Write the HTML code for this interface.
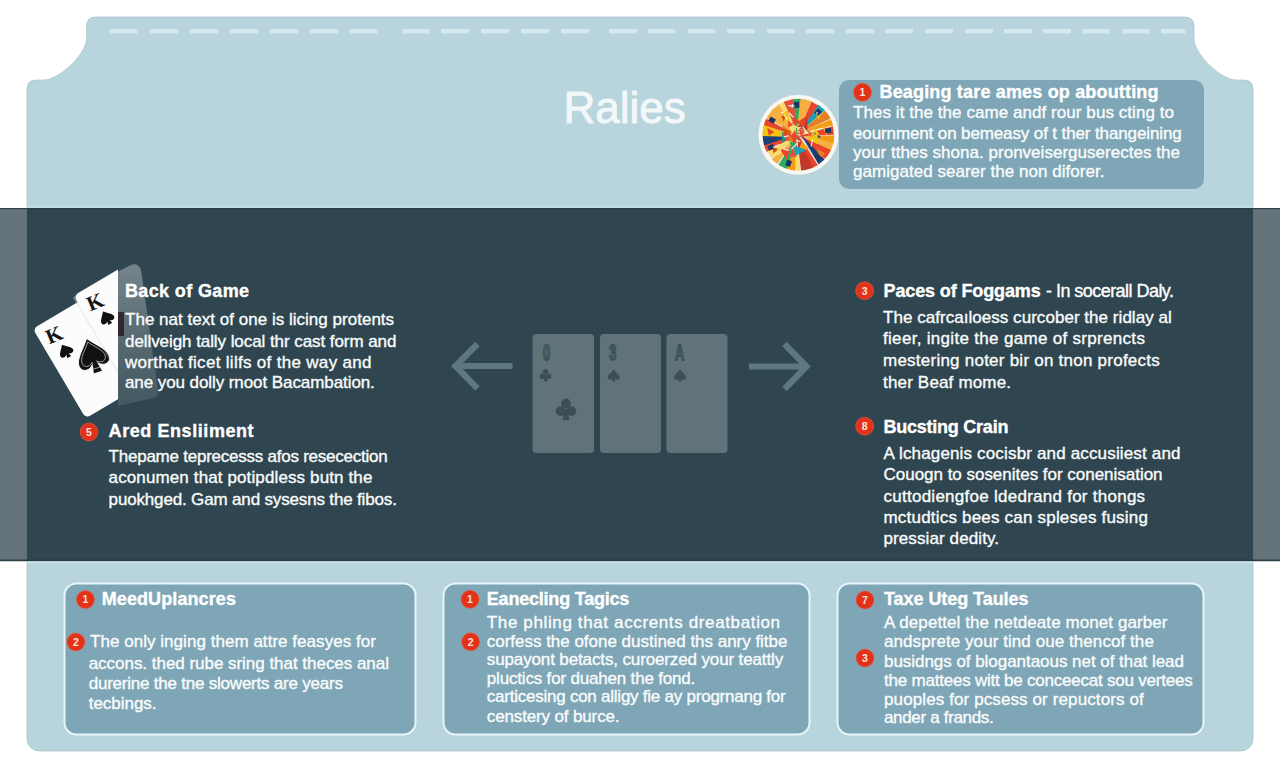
<!DOCTYPE html>
<html><head><meta charset="utf-8"><style>
html,body{margin:0;padding:0;background:#ffffff;width:1280px;height:768px;overflow:hidden}
.t{position:absolute;white-space:pre;font-family:"Liberation Sans",sans-serif;line-height:1;-webkit-text-stroke:0.35px currentColor}
.ttl{-webkit-text-stroke:0.9px currentColor}
svg{position:absolute;left:0;top:0}
</style></head><body>
<svg width="1280" height="768" viewBox="0 0 1280 768">
<path d="M 95.5,17 L 1185,17 Q 1194,17 1194,26 L 1194,38 C 1194,55 1222,80 1236,80 L 1244,80 Q 1253,80 1253,89 L 1253,739 A 12 12 0 0 1 1241,751 L 39,751 A 12 12 0 0 1 27,739 L 27,89 Q 27,80 36,80 L 44,80 C 58,80 86.5,55 86.5,38 L 86.5,26 Q 86.5,17 95.5,17 Z" fill="#b8d4dc" stroke="#a9c4cc" stroke-width="1" stroke-opacity="0.7"/>
<rect x="109.5" y="29" width="28" height="4.6" rx="1" fill="#d4e8ee"/><rect x="150" y="29" width="28" height="4.6" rx="1" fill="#d4e8ee"/><rect x="190" y="29" width="28" height="4.6" rx="1" fill="#d4e8ee"/><rect x="230" y="29" width="28" height="4.6" rx="1" fill="#d4e8ee"/><rect x="270" y="29" width="28" height="4.6" rx="1" fill="#d4e8ee"/><rect x="310" y="29" width="28" height="4.6" rx="1" fill="#d4e8ee"/><rect x="349.5" y="29" width="28" height="4.6" rx="1" fill="#d4e8ee"/><rect x="402" y="29" width="28" height="4.6" rx="1" fill="#d4e8ee"/><rect x="441" y="29" width="28" height="4.6" rx="1" fill="#d4e8ee"/><rect x="481" y="29" width="28" height="4.6" rx="1" fill="#d4e8ee"/><rect x="521" y="29" width="28" height="4.6" rx="1" fill="#d4e8ee"/><rect x="561" y="29" width="28" height="4.6" rx="1" fill="#d4e8ee"/><rect x="609" y="29" width="28" height="4.6" rx="1" fill="#d4e8ee"/><rect x="647.5" y="29" width="28" height="4.6" rx="1" fill="#d4e8ee"/><rect x="687.5" y="29" width="28" height="4.6" rx="1" fill="#d4e8ee"/><rect x="727" y="29" width="28" height="4.6" rx="1" fill="#d4e8ee"/><rect x="767" y="29" width="28" height="4.6" rx="1" fill="#d4e8ee"/><rect x="806" y="29" width="28" height="4.6" rx="1" fill="#d4e8ee"/><rect x="846" y="29" width="28" height="4.6" rx="1" fill="#d4e8ee"/><rect x="885" y="29" width="28" height="4.6" rx="1" fill="#d4e8ee"/><rect x="925" y="29" width="28" height="4.6" rx="1" fill="#d4e8ee"/><rect x="965" y="29" width="28" height="4.6" rx="1" fill="#d4e8ee"/><rect x="1004" y="29" width="28" height="4.6" rx="1" fill="#d4e8ee"/><rect x="1043" y="29" width="28" height="4.6" rx="1" fill="#d4e8ee"/><rect x="1082" y="29" width="28" height="4.6" rx="1" fill="#d4e8ee"/><rect x="1122" y="29" width="28" height="4.6" rx="1" fill="#d4e8ee"/><rect x="1161" y="29" width="24.5" height="4.6" rx="1" fill="#d4e8ee"/>
<rect x="0" y="208" width="1280" height="353" fill="#637379"/>
<rect x="27" y="208" width="1226" height="353" fill="#2f4650"/>
<rect x="27" y="206" width="1226" height="2" fill="#c2dce4"/>
<rect x="0" y="208" width="1280" height="1.2" fill="#25383f" opacity="0.8"/>
<rect x="0" y="559.5" width="1280" height="1.8" fill="#23363d" opacity="0.8"/>
<rect x="27" y="561.3" width="1226" height="2.2" fill="#c8e0e7"/>
<rect x="839" y="80" width="365" height="109" rx="10" fill="#7ea6b6"/>
<defs><clipPath id="wc"><circle cx="798.4" cy="134.8" r="36"/></clipPath></defs><circle cx="798.4" cy="134.8" r="40" fill="#f8f7f2"/><g clip-path="url(#wc)"><rect x="762.4" y="98.80000000000001" width="72" height="72" fill="#efe9dc"/><polygon points="801.1,136.2 838.5,135.4 836.9,145.8" fill="#f39c12"/><polygon points="796.9,132.1 837.2,144.5 832.9,155.0" fill="#f5b041"/><polygon points="798.7,135.2 831.5,150.3 825.4,159.3" fill="#e8452c"/><polygon points="800.6,134.1 824.7,159.5 818.7,164.6" fill="#1d3f7a"/><polygon points="796.2,131.8 819.4,167.6 812.8,170.9" fill="#e8452c"/><polygon points="796.4,132.8 815.2,172.3 801.7,175.8" fill="#c0392b"/><polygon points="796.6,137.4 801.0,174.0 792.9,173.7" fill="#f7dc6f"/><polygon points="795.5,134.3 795.2,172.1 783.2,169.0" fill="#f39c12"/><polygon points="799.0,131.8 786.8,169.8 778.2,165.6" fill="#27ae60"/><polygon points="797.2,136.0 776.5,164.9 771.1,160.1" fill="#f5b041"/><polygon points="801.3,131.9 772.0,158.3 766.6,150.1" fill="#f7dc6f"/><polygon points="797.9,134.1 764.6,153.3 761.0,143.8" fill="#e8452c"/><polygon points="801.1,133.0 763.9,145.5 762.3,135.7" fill="#1d3f7a"/><polygon points="798.5,137.2 760.5,136.0 762.0,124.1" fill="#f1c40f"/><polygon points="800.2,137.0 760.1,124.0 762.8,117.0" fill="#e8452c"/><polygon points="798.5,134.0 766.1,118.2 772.7,109.2" fill="#f5b041"/><polygon points="797.3,133.7 769.1,109.9 778.3,102.0" fill="#f5b041"/><polygon points="797.3,134.7 777.1,101.4 785.3,97.4" fill="#f7dc6f"/><polygon points="797.8,133.2 782.9,99.7 796.0,96.5" fill="#e74c3c"/><polygon points="796.3,137.7 793.0,96.0 802.8,95.9" fill="#27ae60"/><polygon points="796.2,136.2 801.0,94.5 813.3,97.3" fill="#f5b041"/><polygon points="798.0,132.7 811.5,101.7 819.8,106.3" fill="#e8452c"/><polygon points="799.1,132.8 821.3,100.9 828.5,107.2" fill="#17a2b8"/><polygon points="798.3,133.5 827.9,108.3 833.8,116.9" fill="#e67e22"/><polygon points="798.6,132.9 834.9,117.8 837.3,124.4" fill="#f39c12"/><polygon points="797.0,136.5 832.9,126.3 833.9,134.8" fill="#e8452c"/><polygon points="792.8,128.5 798.9,139.0 787.2,136.6" fill="#e74c3c" transform="rotate(128 792.8 134.7)"/><polygon points="786.2,110.0 790.6,117.5 782.2,115.8" fill="#f1c40f" transform="rotate(254 786.2 114.4)"/><polygon points="804.0,118.5 810.9,130.3 797.7,127.5" fill="#c0392b" transform="rotate(258 804.0 125.4)"/><polygon points="787.1,116.3 790.2,121.5 784.4,120.3" fill="#f1c40f" transform="rotate(197 787.1 119.4)"/><polygon points="793.3,140.5 797.5,147.6 789.6,145.9" fill="#27ae60" transform="rotate(180 793.3 144.7)"/><polygon points="802.2,116.8 807.8,126.2 797.2,124.0" fill="#e8452c" transform="rotate(266 802.2 122.3)"/><polygon points="774.9,146.3 778.6,152.6 771.6,151.1" fill="#d35400" transform="rotate(312 774.9 150.0)"/><polygon points="826.9,125.4 832.0,134.0 822.4,132.0" fill="#f5b041" transform="rotate(191 826.9 130.5)"/><polygon points="802.7,141.1 809.1,152.0 796.9,149.4" fill="#f39c12" transform="rotate(102 802.7 147.5)"/><polygon points="794.0,108.5 797.7,114.8 790.7,113.3" fill="#e74c3c" transform="rotate(281 794.0 112.2)"/><polygon points="770.2,127.7 774.4,134.8 766.4,133.1" fill="#e8452c" transform="rotate(199 770.2 131.9)"/><polygon points="783.6,114.5 786.7,119.8 780.8,118.5" fill="#d35400" transform="rotate(58 783.6 117.6)"/><polygon points="792.2,122.6 798.2,132.9 786.8,130.5" fill="#f7dc6f" transform="rotate(65 792.2 128.7)"/><polygon points="814.1,135.1 818.0,141.8 810.6,140.2" fill="#f5b041" transform="rotate(19 814.1 139.0)"/><polygon points="820.8,148.6 825.7,157.0 816.3,155.0" fill="#e67e22" transform="rotate(197 820.8 153.5)"/><polygon points="784.8,132.4 790.3,141.6 779.9,139.4" fill="#1f8a8a" transform="rotate(212 784.8 137.8)"/><polygon points="795.7,116.9 800.1,124.4 791.7,122.7" fill="#e8452c" transform="rotate(343 795.7 121.4)"/><polygon points="792.5,132.2 798.8,143.0 786.8,140.4" fill="#e8452c" transform="rotate(135 792.5 138.5)"/><polygon points="787.1,127.0 791.3,134.1 783.4,132.4" fill="#e74c3c" transform="rotate(185 787.1 131.1)"/><polygon points="794.9,143.9 798.4,149.9 791.7,148.5" fill="#e74c3c" transform="rotate(147 794.9 147.5)"/><polygon points="789.9,120.6 793.4,126.7 786.7,125.3" fill="#e74c3c" transform="rotate(215 789.9 124.2)"/><polygon points="789.3,132.6 792.8,138.6 786.1,137.2" fill="#e8452c" transform="rotate(33 789.3 136.1)"/><polygon points="801.6,128.9 805.0,134.7 798.5,133.3" fill="#e74c3c" transform="rotate(204 801.6 132.3)"/><polygon points="786.3,125.2 792.8,136.3 780.5,133.7" fill="#e67e22" transform="rotate(203 786.3 131.7)"/><polygon points="789.4,134.7 793.6,141.8 785.7,140.2" fill="#e67e22" transform="rotate(350 789.4 138.9)"/><polygon points="778.8,148.6 782.5,154.8 775.6,153.4" fill="#f7dc6f" transform="rotate(214 778.8 152.3)"/><polygon points="815.2,128.1 819.8,136.0 811.0,134.2" fill="#f1c40f" transform="rotate(115 815.2 132.8)"/><polygon points="787.0,130.5 791.9,138.8 782.6,136.9" fill="#e74c3c" transform="rotate(44 787.0 135.4)"/><polygon points="808.5,129.1 811.6,134.5 805.6,133.2" fill="#e67e22" transform="rotate(49 808.5 132.3)"/><polygon points="816.2,132.2 820.3,139.1 812.5,137.5" fill="#1d3f7a" transform="rotate(337 816.2 136.3)"/><polygon points="814.7,132.3 821.1,143.1 809.0,140.5" fill="#f1c40f" transform="rotate(260 814.7 138.6)"/><polygon points="793.1,149.0 798.0,157.3 788.7,155.4" fill="#e74c3c" transform="rotate(232 793.1 153.9)"/><polygon points="818.4,113.2 821.4,118.4 815.6,117.1" fill="#f1c40f" transform="rotate(45 818.4 116.2)"/><polygon points="785.9,128.0 790.1,135.1 782.2,133.4" fill="#d35400" transform="rotate(191 785.9 132.1)"/><polygon points="785.7,146.1 791.9,156.8 780.0,154.3" fill="#e8452c" transform="rotate(48 785.7 152.4)"/><polygon points="798.2,144.0 804.8,155.3 792.2,152.6" fill="#17a2b8" transform="rotate(320 798.2 150.6)"/><rect x="824.7" y="127.7" width="5" height="6" fill="#1e3466" transform="rotate(83 827.7 131.2)"/><rect x="814.4" y="153.9" width="5" height="6" fill="#1e3466" transform="rotate(140 817.4 157.4)"/><rect x="785.3" y="159.1" width="5" height="6" fill="#1e3466" transform="rotate(200 788.3 162.6)"/><rect x="768.3" y="143.1" width="5" height="6" fill="#1e3466" transform="rotate(246 771.3 146.6)"/><rect x="769.8" y="116.5" width="5" height="6" fill="#1e3466" transform="rotate(300 772.8 120.0)"/><rect x="794.1" y="101.8" width="5" height="6" fill="#1e3466" transform="rotate(358 797.1 105.3)"/><rect x="815.1" y="109.4" width="5" height="6" fill="#1e3466" transform="rotate(402 818.1 112.9)"/><path d="M817.1,111.9 l-0.3,2.6" stroke="#ffffff" stroke-width="1.3" opacity="0.8"/><path d="M792.5,104.2 l-0.5,3.6" stroke="#ffffff" stroke-width="1.3" opacity="0.8"/><path d="M796.4,140.5 l3.9,1.1" stroke="#ffffff" stroke-width="1.3" opacity="0.8"/><path d="M786.9,119.4 l-2.6,-4.7" stroke="#ffffff" stroke-width="1.3" opacity="0.8"/><path d="M788.0,105.7 l6.6,0.5" stroke="#ffffff" stroke-width="1.3" opacity="0.8"/><path d="M779.5,144.3 l-6.3,3.3" stroke="#ffffff" stroke-width="1.3" opacity="0.8"/><path d="M797.5,143.1 l-6.1,6.2" stroke="#ffffff" stroke-width="1.3" opacity="0.8"/><path d="M789.4,150.4 l-6.0,-1.3" stroke="#ffffff" stroke-width="1.3" opacity="0.8"/><path d="M789.0,135.6 l-5.3,1.6" stroke="#ffffff" stroke-width="1.3" opacity="0.8"/><path d="M802.5,126.7 l5.5,6.9" stroke="#ffffff" stroke-width="1.3" opacity="0.8"/><path d="M793.4,117.2 l-4.4,-4.4" stroke="#ffffff" stroke-width="1.3" opacity="0.8"/><path d="M800.9,127.3 l-4.0,0.8" stroke="#ffffff" stroke-width="1.3" opacity="0.8"/><path d="M784.0,112.1 l-3.1,1.0" stroke="#ffffff" stroke-width="1.3" opacity="0.8"/><path d="M811.0,146.4 l1.7,-6.9" stroke="#ffffff" stroke-width="1.3" opacity="0.8"/></g>
<rect x="64.5" y="583.5" width="351" height="151" rx="12" fill="#7ea6b6" stroke="#e8f6fa" stroke-width="2"/>
<rect x="443.5" y="583.5" width="366" height="151" rx="12" fill="#7ea6b6" stroke="#e8f6fa" stroke-width="2"/>
<rect x="837.5" y="583.5" width="366" height="151" rx="12" fill="#7ea6b6" stroke="#e8f6fa" stroke-width="2"/>
<defs><clipPath id="clipL"><rect x="0" y="200" width="118" height="300"/></clipPath><linearGradient id="gtr" x1="0" y1="0" x2="0" y2="1"><stop offset="0" stop-color="#ffffff" stop-opacity="0.34"/><stop offset="0.5" stop-color="#ffffff" stop-opacity="0.2"/><stop offset="1" stop-color="#ffffff" stop-opacity="0.1"/></linearGradient></defs><path d="M117,272 L131,265 Q138,262 141,270 L158,390 Q159,397 152,398.5 L118,406 Z" fill="url(#gtr)"/><rect x="118" y="312" width="6" height="24" fill="#2a1a22" opacity="0.85"/><g clip-path="url(#clipL)"><g transform="translate(32.8,328.8) rotate(-30.6)"><rect x="0" y="0" width="82" height="104" rx="5" fill="#fcfcfc"/><text x="7" y="23" font-family="Liberation Serif" font-weight="700" font-size="21" fill="#151515" transform="rotate(8 14 16)">K</text><path d="M0,-9 C4,-4 10,0 10,4 C10,8 5,9 2,6 L3,11 L-3,11 L-2,6 C-5,9 -10,8 -10,4 C-10,0 -4,-4 0,-9 Z" transform="translate(17,35) scale(0.72)" fill="#111"/><path d="M0,-9 C4,-4 10,0 10,4 C10,8 5,9 2,6 L3,11 L-3,11 L-2,6 C-5,9 -10,8 -10,4 C-10,0 -4,-4 0,-9 Z" transform="translate(38,51.5) rotate(12) scale(1.6,1.8)" fill="#111" stroke="#ffffff" stroke-width="0.5"/><path d="M0,-9 C4,-4 10,0 10,4 C10,8 5,9 2,6 L3,11 L-3,11 L-2,6 C-5,9 -10,8 -10,4 C-10,0 -4,-4 0,-9 Z" transform="translate(38,51.5) rotate(12) scale(1.22,1.38)" fill="none" stroke="#cfcfcf" stroke-width="0.5"/></g><g transform="translate(73.8,295.6) rotate(-30.6)"><rect x="-2" y="1" width="6" height="104" fill="#d5dadd" opacity="0.35"/><rect x="0" y="0" width="82" height="104" rx="5" fill="#fcfcfc"/><text x="7" y="23" font-family="Liberation Serif" font-weight="700" font-size="21" fill="#151515" transform="rotate(8 14 16)">K</text><path d="M0,-9 C4,-4 10,0 10,4 C10,8 5,9 2,6 L3,11 L-3,11 L-2,6 C-5,9 -10,8 -10,4 C-10,0 -4,-4 0,-9 Z" transform="translate(17,35) scale(0.72)" fill="#111"/></g></g>
<rect x="532.5" y="334" width="61.5" height="119" rx="4" fill="#60737b"/><rect x="600" y="334" width="61" height="119" rx="4" fill="#60737b"/><rect x="666.5" y="334" width="61.0" height="119" rx="4" fill="#60737b"/><text x="0" y="0" font-family="Liberation Sans" font-weight="700" font-size="15" fill="none" stroke="#3c4f57" stroke-width="1.3" text-anchor="middle" transform="translate(546.5,360) scale(0.85,1.45)">0</text><text x="0" y="0" font-family="Liberation Sans" font-weight="700" font-size="15" fill="none" stroke="#3c4f57" stroke-width="1.3" text-anchor="middle" transform="translate(612.8,360) scale(0.85,1.45)">3</text><text x="0" y="0" font-family="Liberation Sans" font-weight="700" font-size="15" fill="none" stroke="#3c4f57" stroke-width="1.3" text-anchor="middle" transform="translate(679.7,360) scale(0.85,1.45)">A</text><g transform="translate(545.6,375) scale(0.8)" fill="#3c4f57"><circle cx="0" cy="-4" r="3.5"/><circle cx="-3.8" cy="1.5" r="3.5"/><circle cx="3.8" cy="1.5" r="3.5"/><path d="M-1,0 L1,0 L2.5,8 L-2.5,8 Z"/></g><g transform="translate(566,409) scale(1.4)" fill="#3c4f57"><circle cx="0" cy="-4" r="3.5"/><circle cx="-3.8" cy="1.5" r="3.5"/><circle cx="3.8" cy="1.5" r="3.5"/><path d="M-1,0 L1,0 L2.5,8 L-2.5,8 Z"/></g><path d="M0,-9 C4,-4 10,0 10,4 C10,8 5,9 2,6 L3,11 L-3,11 L-2,6 C-5,9 -10,8 -10,4 C-10,0 -4,-4 0,-9 Z" transform="translate(613.75,375) scale(0.6)" fill="#3c4f57"/><path d="M0,-9 C4,-4 10,0 10,4 C10,8 5,9 2,6 L3,11 L-3,11 L-2,6 C-5,9 -10,8 -10,4 C-10,0 -4,-4 0,-9 Z" transform="translate(680,375) scale(0.6)" fill="#3c4f57"/><g stroke="#5d7880" stroke-width="6.2" fill="none" stroke-linecap="butt" stroke-linejoin="miter"><path d="M512.5,366 L455,366"/><path d="M477.5,344 L455.5,366 L477.5,388.5"/><path d="M749,366.5 L806,366.5"/><path d="M784.5,344 L806.5,366.5 L784.5,389"/></g>
<circle cx="862.5" cy="92.3" r="9" fill="#e3321a" stroke="#ee5a3c" stroke-width="0.6"/><text x="862.5" y="96.1" font-size="10.5" font-weight="700" fill="#fbe3da" text-anchor="middle" font-family="Liberation Sans">1</text><circle cx="89" cy="432" r="9" fill="#e3321a" stroke="#ee5a3c" stroke-width="0.6"/><text x="89" y="435.8" font-size="10.5" font-weight="700" fill="#fbe3da" text-anchor="middle" font-family="Liberation Sans">5</text><circle cx="864.6" cy="290.7" r="9" fill="#e3321a" stroke="#ee5a3c" stroke-width="0.6"/><text x="864.6" y="294.5" font-size="10.5" font-weight="700" fill="#fbe3da" text-anchor="middle" font-family="Liberation Sans">3</text><circle cx="864.6" cy="426.2" r="9" fill="#e3321a" stroke="#ee5a3c" stroke-width="0.6"/><text x="864.6" y="430.0" font-size="10.5" font-weight="700" fill="#fbe3da" text-anchor="middle" font-family="Liberation Sans">8</text><circle cx="85.4" cy="599.6" r="9" fill="#e3321a" stroke="#ee5a3c" stroke-width="0.6"/><text x="85.4" y="603.4" font-size="10.5" font-weight="700" fill="#fbe3da" text-anchor="middle" font-family="Liberation Sans">1</text><circle cx="75.8" cy="642" r="9" fill="#e3321a" stroke="#ee5a3c" stroke-width="0.6"/><text x="75.8" y="645.8" font-size="10.5" font-weight="700" fill="#fbe3da" text-anchor="middle" font-family="Liberation Sans">2</text><circle cx="470" cy="599.3" r="9" fill="#e3321a" stroke="#ee5a3c" stroke-width="0.6"/><text x="470" y="603.0999999999999" font-size="10.5" font-weight="700" fill="#fbe3da" text-anchor="middle" font-family="Liberation Sans">1</text><circle cx="470.6" cy="641.8" r="9" fill="#e3321a" stroke="#ee5a3c" stroke-width="0.6"/><text x="470.6" y="645.5999999999999" font-size="10.5" font-weight="700" fill="#fbe3da" text-anchor="middle" font-family="Liberation Sans">2</text><circle cx="865" cy="600" r="9" fill="#e3321a" stroke="#ee5a3c" stroke-width="0.6"/><text x="865" y="603.8" font-size="10.5" font-weight="700" fill="#fbe3da" text-anchor="middle" font-family="Liberation Sans">7</text><circle cx="865" cy="658" r="9" fill="#e3321a" stroke="#ee5a3c" stroke-width="0.6"/><text x="865" y="661.8" font-size="10.5" font-weight="700" fill="#fbe3da" text-anchor="middle" font-family="Liberation Sans">3</text>
</svg>
<div class="t" style="left:879.5px;top:82.8px;font-size:18px;font-weight:700;color:#ffffff;letter-spacing:0.17px">Beaging tare ames op aboutting</div>
<div class="t" style="left:853.0px;top:104.0px;font-size:17px;font-weight:400;color:#fafcfc;letter-spacing:0.06px">Thes it the the came andf rour bus cting to</div>
<div class="t" style="left:853.0px;top:124.8px;font-size:17px;font-weight:400;color:#fafcfc;letter-spacing:-0.12px">eournment on bemeasy of t ther thangeining</div>
<div class="t" style="left:853.0px;top:144.1px;font-size:17px;font-weight:400;color:#fafcfc;letter-spacing:0.02px">your tthes shona. pronveiserguserectes the</div>
<div class="t" style="left:853.0px;top:163.2px;font-size:17px;font-weight:400;color:#fafcfc;letter-spacing:0.03px">gamigated searer the non diforer.</div>
<div class="t" style="left:125.0px;top:281.8px;font-size:18px;font-weight:700;color:#ffffff;letter-spacing:0.36px">Back of Game</div>
<div class="t" style="left:125.0px;top:311.1px;font-size:17px;font-weight:400;color:#fafcfc;letter-spacing:0.02px">The nat text of one is licing protents</div>
<div class="t" style="left:125.0px;top:332.6px;font-size:17px;font-weight:400;color:#fafcfc;letter-spacing:-0.07px">dellveigh tally local thr cast form and</div>
<div class="t" style="left:125.0px;top:353.9px;font-size:17px;font-weight:400;color:#fafcfc;letter-spacing:0.31px">worthat ficet lilfs of the way and</div>
<div class="t" style="left:125.0px;top:374.4px;font-size:17px;font-weight:400;color:#fafcfc;letter-spacing:-0.08px">ane you dolly rnoot Bacambation.</div>
<div class="t" style="left:108.6px;top:422.1px;font-size:18px;font-weight:700;color:#ffffff;letter-spacing:0.57px">Ared Ensliiment</div>
<div class="t" style="left:108.6px;top:447.6px;font-size:17px;font-weight:400;color:#fafcfc;letter-spacing:-0.24px">Thepame teprecesss afos resecection</div>
<div class="t" style="left:108.6px;top:469.4px;font-size:17px;font-weight:400;color:#fafcfc;letter-spacing:0.12px">aconumen that potipdless butn the</div>
<div class="t" style="left:108.6px;top:490.6px;font-size:17px;font-weight:400;color:#fafcfc;letter-spacing:-0.16px">puokhged. Gam and sysesns the fibos.</div>
<div class="t" style="left:883.5px;top:282.2px;font-size:18px;font-weight:700;color:#ffffff;letter-spacing:-0.12px">Paces of Foggams</div>
<div class="t" style="left:1046.0px;top:282.2px;font-size:18px;font-weight:400;color:#ffffff;letter-spacing:-0.54px">- In socerall Daly.</div>
<div class="t" style="left:883.0px;top:308.6px;font-size:17px;font-weight:400;color:#fafcfc;letter-spacing:0.04px">The cafrcaıloess curcober the ridlay al</div>
<div class="t" style="left:883.0px;top:330.0px;font-size:17px;font-weight:400;color:#fafcfc;letter-spacing:0.31px">fieer, ingite the game of srprencts</div>
<div class="t" style="left:883.0px;top:351.6px;font-size:17px;font-weight:400;color:#fafcfc;letter-spacing:0.24px">mestering noter bir on tnon profects</div>
<div class="t" style="left:883.0px;top:373.6px;font-size:17px;font-weight:400;color:#fafcfc;letter-spacing:0.17px">ther Beaf mome.</div>
<div class="t" style="left:883.5px;top:417.7px;font-size:18px;font-weight:700;color:#ffffff;letter-spacing:-0.24px">Bucsting Crain</div>
<div class="t" style="left:883.5px;top:445.0px;font-size:17px;font-weight:400;color:#fafcfc;letter-spacing:0.16px">A lchagenis cocisbr and accusiiest and</div>
<div class="t" style="left:883.5px;top:466.3px;font-size:17px;font-weight:400;color:#fafcfc;letter-spacing:-0.02px">Couogn to sosenites for conenisation</div>
<div class="t" style="left:883.5px;top:487.6px;font-size:17px;font-weight:400;color:#fafcfc;letter-spacing:0.26px">cuttodiengfoe ldedrand for thongs</div>
<div class="t" style="left:883.5px;top:509.3px;font-size:17px;font-weight:400;color:#fafcfc;letter-spacing:0.20px">mctudtics bees can spleses fusing</div>
<div class="t" style="left:883.5px;top:530.0px;font-size:17px;font-weight:400;color:#fafcfc;letter-spacing:0.10px">pressiar dedity.</div>
<div class="t" style="left:101.7px;top:590.2px;font-size:18px;font-weight:700;color:#ffffff;letter-spacing:0.10px">MeedUplancres</div>
<div class="t" style="left:90.0px;top:632.9px;font-size:17px;font-weight:400;color:#fafcfc;letter-spacing:0.04px">The only inging them attre feasyes for</div>
<div class="t" style="left:88.7px;top:655.1px;font-size:17px;font-weight:400;color:#fafcfc;letter-spacing:-0.03px">accons. thed rube sring that theces anal</div>
<div class="t" style="left:88.7px;top:674.6px;font-size:17px;font-weight:400;color:#fafcfc;letter-spacing:-0.22px">durerine the tne slowerts are years</div>
<div class="t" style="left:88.7px;top:695.0px;font-size:17px;font-weight:400;color:#fafcfc;letter-spacing:-0.02px">tecbings.</div>
<div class="t" style="left:486.8px;top:590.1px;font-size:18px;font-weight:700;color:#ffffff;letter-spacing:-0.21px">Eanecling Tagics</div>
<div class="t" style="left:486.8px;top:614.0px;font-size:17px;font-weight:400;color:#fafcfc;letter-spacing:0.63px">The phling that accrents dreatbation</div>
<div class="t" style="left:486.8px;top:633.3px;font-size:17px;font-weight:400;color:#fafcfc;letter-spacing:-0.02px">corfess the ofone dustined ths anry fitbe</div>
<div class="t" style="left:486.8px;top:651.2px;font-size:17px;font-weight:400;color:#fafcfc;letter-spacing:-0.13px">supayont betacts, curoerzed your teattly</div>
<div class="t" style="left:486.8px;top:669.6px;font-size:17px;font-weight:400;color:#fafcfc;letter-spacing:-0.18px">pluctics for duahen the fond.</div>
<div class="t" style="left:486.8px;top:688.3px;font-size:17px;font-weight:400;color:#fafcfc;letter-spacing:-0.24px">carticesing con alligy fie ay progrnang for</div>
<div class="t" style="left:486.8px;top:707.6px;font-size:17px;font-weight:400;color:#fafcfc;letter-spacing:-0.14px">censtery of burce.</div>
<div class="t" style="left:884.0px;top:590.1px;font-size:18px;font-weight:700;color:#ffffff;letter-spacing:-0.06px">Taxe Uteg Taules</div>
<div class="t" style="left:884.0px;top:614.0px;font-size:17px;font-weight:400;color:#fafcfc;letter-spacing:0.08px">A depettel the netdeate monet garber</div>
<div class="t" style="left:884.0px;top:633.3px;font-size:17px;font-weight:400;color:#fafcfc;letter-spacing:0.07px">andsprete your tind oue thencof the</div>
<div class="t" style="left:884.0px;top:652.6px;font-size:17px;font-weight:400;color:#fafcfc;letter-spacing:-0.04px">busidngs of blogantaous net of that lead</div>
<div class="t" style="left:884.0px;top:671.9px;font-size:17px;font-weight:400;color:#fafcfc;letter-spacing:-0.22px">the mattees witt be conceecat sou vertees</div>
<div class="t" style="left:884.0px;top:691.2px;font-size:17px;font-weight:400;color:#fafcfc;letter-spacing:0.11px">puoples for pcsess or repuctors of</div>
<div class="t" style="left:884.0px;top:709.1px;font-size:17px;font-weight:400;color:#fafcfc;letter-spacing:-0.33px">ander a frands.</div>
<div class="t ttl" style="left:563.5px;top:86.2px;font-size:44px;font-weight:400;color:#f2f7f9;letter-spacing:0.00px">Ralies</div>
</body></html>
